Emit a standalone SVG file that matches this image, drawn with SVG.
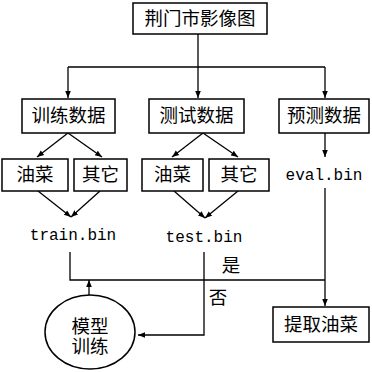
<svg xmlns="http://www.w3.org/2000/svg" width="372" height="372" viewBox="0 0 372 372">
<style>
.box{fill:#fff;stroke:#000;stroke-width:1.5}
.ln{fill:none;stroke:#000;stroke-width:1.3}
.t{font-family:"Liberation Serif","Noto Sans CJK SC",serif;font-size:18.5px;fill:#000;text-anchor:middle;dominant-baseline:central}
.m{font-family:"Liberation Mono",monospace;font-size:16px;fill:#000;text-anchor:middle}
</style>
<defs>
<marker id="ah" viewBox="0 0 10 10" refX="10" refY="5" markerWidth="7" markerHeight="7" markerUnits="userSpaceOnUse" orient="auto">
<path d="M0,1 L10,5 L0,9 Z" fill="#000"/>
</marker>
</defs>
<rect width="372" height="372" fill="#fff"/>
<g id="connectors">
<path class="ln" d="M198,34 V67"/>
<path class="ln" d="M68,67 H325"/>
<path class="ln" d="M68,67 V98" marker-end="url(#ah)"/>
<path class="ln" d="M198,67 V98" marker-end="url(#ah)"/>
<path class="ln" d="M325,67 V98" marker-end="url(#ah)"/>
<path class="ln" d="M68,133 L37,157" marker-end="url(#ah)"/>
<path class="ln" d="M68,133 L102,157" marker-end="url(#ah)"/>
<path class="ln" d="M203,133 L172,157" marker-end="url(#ah)"/>
<path class="ln" d="M203,133 L238,157" marker-end="url(#ah)"/>
<path class="ln" d="M325,133 V157" marker-end="url(#ah)"/>
<path class="ln" d="M38,191 L71,217" marker-end="url(#ah)"/>
<path class="ln" d="M100,191 L71,217" marker-end="url(#ah)"/>
<path class="ln" d="M174,191 L205,218" marker-end="url(#ah)"/>
<path class="ln" d="M238,191 L205,218" marker-end="url(#ah)"/>
<path class="ln" d="M70,252 V280 H325"/>
<path class="ln" d="M325,188 V306" marker-end="url(#ah)"/>
<path class="ln" d="M89,296 V280" marker-end="url(#ah)"/>
<path class="ln" d="M204,252 V335 H138" marker-end="url(#ah)"/>
<text class="t" x="231" y="266" font-size="17">是</text>
<text class="t" x="218" y="298" font-size="17">否</text>
</g>
<g id="n-top"><rect class="box" x="133" y="3" width="134" height="31"/><text class="t" x="200" y="19">荆门市影像图</text></g>
<g id="n-train"><rect class="box" x="22" y="99" width="93" height="34"/><text class="t" x="68.5" y="116">训练数据</text></g>
<g id="n-test"><rect class="box" x="149" y="99" width="95" height="34"/><text class="t" x="196.5" y="116">测试数据</text></g>
<g id="n-pred"><rect class="box" x="279" y="99" width="90" height="34"/><text class="t" x="324" y="116">预测数据</text></g>
<g id="n-tr-yc"><rect class="box" x="2" y="159" width="66" height="32"/><text class="t" x="35" y="175">油菜</text></g>
<g id="n-tr-qt"><rect class="box" x="74" y="159" width="53" height="32"/><text class="t" x="100.5" y="175">其它</text></g>
<g id="n-te-yc"><rect class="box" x="142" y="159" width="61" height="32"/><text class="t" x="172.5" y="175">油菜</text></g>
<g id="n-te-qt"><rect class="box" x="209" y="159" width="60" height="32"/><text class="t" x="239" y="175">其它</text></g>
<g id="n-trainbin"><text class="m" x="73" y="240">train.bin</text></g>
<g id="n-testbin"><text class="m" x="204" y="242">test.bin</text></g>
<g id="n-evalbin"><text class="m" x="324" y="180">eval.bin</text></g>
<g id="n-model"><ellipse class="box" cx="90" cy="332" rx="45" ry="37"/><text class="t" x="90" y="327">模型</text><text class="t" x="90" y="347">训练</text></g>
<g id="n-extract"><rect class="box" x="273" y="307" width="96" height="35"/><text class="t" x="321" y="324.5">提取油菜</text></g>
</svg>
